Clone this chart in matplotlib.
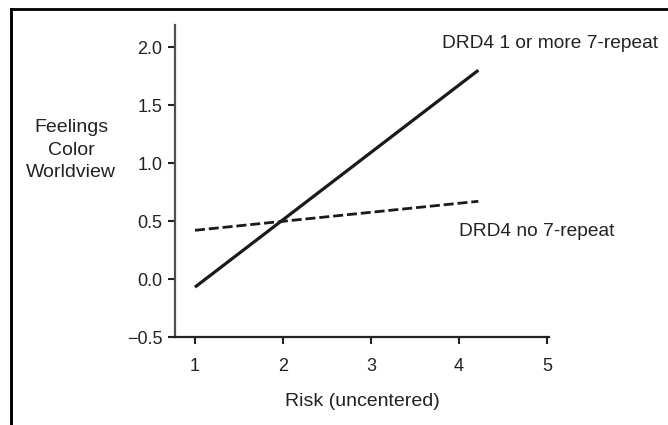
import numpy as np
import matplotlib.pyplot as plt
from matplotlib.lines import Line2D

plt.rcParams['font.family'] = ['Liberation Sans', 'DejaVu Sans']

# values (simple slopes, end points of each line)
risk = [1.0, 4.22]
seven_repeat = [-0.07, 1.80]     # DRD4 1 or more 7-repeat
no_seven_repeat = [0.42, 0.67]   # DRD4 no 7-repeat

xticks = [1, 2, 3, 4, 5]
yticks = [-0.5, 0.0, 0.5, 1.0, 1.5, 2.0]
ytick_labels = ['\u22120.5', '0.0', '0.5', '1.0', '1.5', '2.0']

W, H = 668, 425
fig = plt.figure(figsize=(W / 100, H / 100), dpi=100)
ax = fig.add_axes([175 / W, 1 - 337 / H, (549 - 175) / W, (337 - 25) / H])

ax.plot(risk, seven_repeat, color='#1a1a1a', lw=2.3, solid_capstyle='butt')
ax.plot(risk, no_seven_repeat, color='#1a1a1a', lw=2.0, dashes=(3.6, 1.4))

ax.set_xlim(0.773, 5.023)
ax.set_ylim(-0.5, 2.19)
ax.set_xticks(xticks)
ax.set_yticks(yticks)
ax.set_yticklabels(ytick_labels)

for s in ['top', 'right']:
    ax.spines[s].set_visible(False)
ax.spines['left'].set_color('#505050')
ax.spines['left'].set_linewidth(1.6)
ax.spines['bottom'].set_color('#222222')
ax.spines['bottom'].set_linewidth(1.6)

ax.tick_params(axis='y', direction='out', length=5, width=1.5, color='#222222',
               pad=4, labelsize=13, labelcolor='#222222')
ax.tick_params(axis='x', direction='out', length=5, width=1.5, color='#222222',
               pad=10, labelsize=13, labelcolor='#222222')

# line annotations
fig.text(442 / W, 1 - 43 / H, 'DRD4 1 or more 7-repeat', fontsize=13.8,
         color='#222222', va='center', ha='left')
fig.text(459 / W, 1 - 232 / H, 'DRD4 no 7-repeat', fontsize=13.8,
         color='#222222', va='center', ha='left')

# axis titles
fig.text(71 / W, 1 - 150 / H, 'Feelings\nColor\nWorldview', fontsize=14,
         color='#222222', ha='center', va='center', multialignment='center',
         linespacing=1.4)
fig.text(362 / W, 1 - 402 / H, 'Risk (uncentered)', fontsize=14,
         color='#222222', ha='center', va='center')

# page frame, left and top edges only
fig.add_artist(Line2D([10.5 / W, 10.5 / W], [0, 1 - 8.7 / H], color='black', lw=2.1,
                      transform=fig.transFigure, solid_capstyle='projecting'))
fig.add_artist(Line2D([10.5 / W, 1], [1 - 8.7 / H, 1 - 8.7 / H], color='black', lw=2.0,
                      transform=fig.transFigure, solid_capstyle='projecting'))

fig.savefig('out.png', dpi=100)
